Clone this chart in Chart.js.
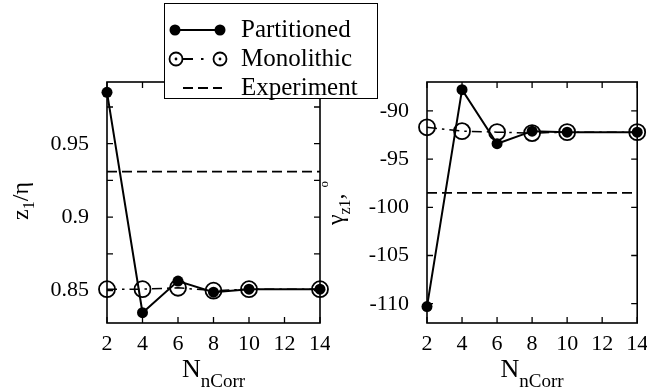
<!DOCTYPE html>
<html>
<head>
<meta charset="utf-8">
<script src="https://cdn.jsdelivr.net/npm/chart.js@4.4.1/dist/chart.umd.min.js"></script>
<style>
  body { margin: 0; width: 647px; height: 389px; overflow: hidden; position: relative; background: #fff; font-family: 'Liberation Serif', serif; }
  #left { position: absolute; left: 0; top: 0; z-index: 1; }
  #right { position: absolute; left: 318px; top: 0; z-index: 2; }
  #legendBox { position: absolute; left: 164px; top: 3px; width: 214px; height: 96px; box-sizing: border-box; border: 1.5px solid #000; background: #fff; z-index: 5; }
  #legendMarks { position: absolute; left: 164px; top: 3px; z-index: 6; }
  .lg { position: absolute; left: 241px; font-family: 'Liberation Serif', serif; font-size: 25px; line-height: 25px; color: #000; z-index: 7; white-space: nowrap; }
</style>
</head>
<body>
<canvas id="left" width="330" height="389"></canvas>
<canvas id="right" width="329" height="389"></canvas>
<div id="legendBox"></div>
<canvas id="legendMarks" width="214" height="96"></canvas>
<span class="lg" style="top:16px">Partitioned</span>
<span class="lg" style="top:45px">Monolithic</span>
<span class="lg" style="top:74px">Experiment</span>
<script>
// x values (number of correction iterations)
const nCorrTicks = [2, 4, 6, 8, 10, 12, 14];
const nCorr = [2, 4, 6, 8, 10, 14];

// left panel: z1/eta
const zPartitioned = [0.985, 0.835, 0.8565, 0.849, 0.851, 0.851];
const zMonolithic = [0.851, 0.851, 0.852, 0.850, 0.851, 0.851];
const zExperiment = 0.931;
const zTicks = [0.85, 0.9, 0.95];
const zMinorTicks = [0.875, 0.925, 0.975];

// right panel: gamma_z1 (degrees)
const gPartitioned = [-110.3, -87.8, -93.4, -92.1, -92.2, -92.2];
const gMonolithic = [-91.7, -92.1, -92.2, -92.3, -92.2, -92.2];
const gExperiment = -98.5;
const gTicks = [-110, -105, -100, -95, -90];

const FONT = "'Liberation Serif', serif";
const ETA = '\u03b7';
const GAMMA = '\u03b3';

// legend marks
(function () {
  const ctx = document.getElementById('legendMarks').getContext('2d');
  ctx.strokeStyle = '#000';
  ctx.fillStyle = '#000';
  ctx.lineWidth = 2;
  ctx.beginPath(); ctx.moveTo(11, 27); ctx.lineTo(56, 27); ctx.stroke();
  [11, 56].forEach(x => { ctx.beginPath(); ctx.arc(x, 27, 5.5, 0, Math.PI * 2); ctx.fill(); });
  ctx.lineWidth = 1.8;
  ctx.beginPath(); ctx.moveTo(19, 56); ctx.lineTo(29, 56); ctx.moveTo(37, 56); ctx.lineTo(39.5, 56); ctx.stroke();
  [12, 56].forEach(x => {
    ctx.beginPath(); ctx.arc(x, 56, 6.5, 0, Math.PI * 2); ctx.stroke();
    ctx.beginPath(); ctx.arc(x, 56, 1.4, 0, Math.PI * 2); ctx.fill();
  });
  ctx.setLineDash([10, 5]);
  ctx.beginPath(); ctx.moveTo(19, 85); ctx.lineTo(58, 85); ctx.stroke();
})();

function drawParts(ctx, parts, cx, base) {
  let total = 0;
  parts.forEach(p => {
    ctx.font = p.size + 'px ' + FONT;
    p.w = ctx.measureText(p.t).width;
    total += p.w;
  });
  let x = cx - total / 2;
  parts.forEach(p => {
    ctx.font = p.size + 'px ' + FONT;
    ctx.fillText(p.t, x, base + (p.dy || 0));
    x += p.w;
  });
}

const framePlugin = {
  id: 'frame',
  beforeDatasetsDraw(chart, args, opts) {
    const { ctx, chartArea: a, scales: { x, y } } = chart;
    ctx.save();
    ctx.strokeStyle = '#000';
    ctx.lineWidth = 1.6;
    ctx.strokeRect(a.left, a.top, a.right - a.left, a.bottom - a.top);
    ctx.lineWidth = 1.3;
    ctx.beginPath();
    const tl = 6;
    nCorrTicks.forEach(v => {
      const px = x.getPixelForValue(v);
      ctx.moveTo(px, a.bottom); ctx.lineTo(px, a.bottom - tl);
      ctx.moveTo(px, a.top); ctx.lineTo(px, a.top + tl);
    });
    opts.yTicks.concat(opts.yMinor || []).forEach(v => {
      const py = y.getPixelForValue(v);
      ctx.moveTo(a.left, py); ctx.lineTo(a.left + tl, py);
      ctx.moveTo(a.right, py); ctx.lineTo(a.right - tl, py);
    });
    ctx.stroke();
    ctx.restore();
  },
  afterDraw(chart, args, opts) {
    const { ctx, chartArea: a } = chart;
    ctx.save();
    ctx.fillStyle = '#000';
    ctx.textAlign = 'left';
    ctx.textBaseline = 'alphabetic';
    drawParts(ctx, [{ t: 'N', size: 26 }, { t: 'nCorr', size: 19, dy: 10 }], (a.left + a.right) / 2, 377);
    ctx.translate(opts.yTitleX, opts.yTitleY);
    ctx.rotate(-Math.PI / 2);
    drawParts(ctx, opts.yTitle, 0, 0);
    ctx.restore();
  }
};

function makeChart(id, part, mono, exp, yMin, yMax, yTicks, frameOpts, yWidth, padRight) {
  const data = {
    datasets: [
      {
        label: 'Partitioned',
        data: nCorr.map((v, i) => ({ x: v, y: part[i] })),
        borderColor: '#000',
        backgroundColor: '#000',
        borderWidth: 2,
        pointRadius: 5.5,
        pointBorderWidth: 0,
        pointBackgroundColor: '#000',
        tension: 0,
        clip: false
      },
      {
        label: 'Monolithic',
        data: nCorr.map((v, i) => ({ x: v, y: mono[i] })),
        borderColor: '#000',
        borderWidth: 1.5,
        borderDash: [10, 5, 2.5, 5],
        pointRadius: 8,
        pointBorderWidth: 1.8,
        pointBorderColor: '#000',
        pointBackgroundColor: 'rgba(0,0,0,0)',
        tension: 0,
        clip: false
      },
      {
        label: 'Experiment',
        data: [{ x: nCorrTicks[0], y: exp }, { x: nCorrTicks[nCorrTicks.length - 1], y: exp }],
        borderColor: '#000',
        borderWidth: 1.6,
        borderDash: [10, 5],
        pointRadius: 0,
        clip: false
      }
    ]
  };
  return new Chart(id, {
    type: 'line',
    data: data,
    plugins: [framePlugin],
    options: {
      responsive: false,
      animation: false,
      layout: { padding: { left: 0, top: 82, right: padRight, bottom: 0 } },
      plugins: {
        legend: { display: false },
        tooltip: { enabled: false },
        frame: frameOpts
      },
      scales: {
        x: {
          type: 'linear',
          min: 2,
          max: 14,
          grid: { display: false },
          border: { display: false },
          afterBuildTicks: s => { s.ticks = nCorrTicks.map(v => ({ value: v })); },
          afterFit: s => { s.height = 66; s.paddingLeft = 0; s.paddingRight = 0; },
          ticks: { color: '#000', padding: 0, maxRotation: 0, font: { family: FONT, size: 22 }, callback: v => String(v) }
        },
        y: {
          type: 'linear',
          min: yMin,
          max: yMax,
          grid: { display: false },
          border: { display: false },
          afterBuildTicks: s => { s.ticks = yTicks.map(v => ({ value: v })); },
          afterFit: s => { s.width = yWidth; s.paddingTop = 0; s.paddingBottom = 0; },
          ticks: { color: '#000', padding: 10, font: { family: FONT, size: 22 }, callback: v => String(v) }
        }
      }
    }
  });
}

makeChart('left', zPartitioned, zMonolithic, zExperiment, 0.828, 0.992, zTicks, {
  yTicks: zTicks,
  yMinor: zMinorTicks,
  yTitleX: 28,
  yTitleY: 201,
  yTitle: [{ t: 'z', size: 24 }, { t: '1', size: 16, dy: 6 }, { t: '/' + ETA, size: 24 }]
}, 107, 10);

makeChart('right', gPartitioned, gMonolithic, gExperiment, -112, -87, gTicks, {
  yTicks: gTicks,
  yTitleX: 25,
  yTitleY: 203,
  yTitle: [{ t: GAMMA, size: 24 }, { t: 'z1', size: 16, dy: 7 }, { t: ', ', size: 24 }, { t: 'o', size: 13, dy: -15 }]
}, 109, 7);
</script>
</body>
</html>
